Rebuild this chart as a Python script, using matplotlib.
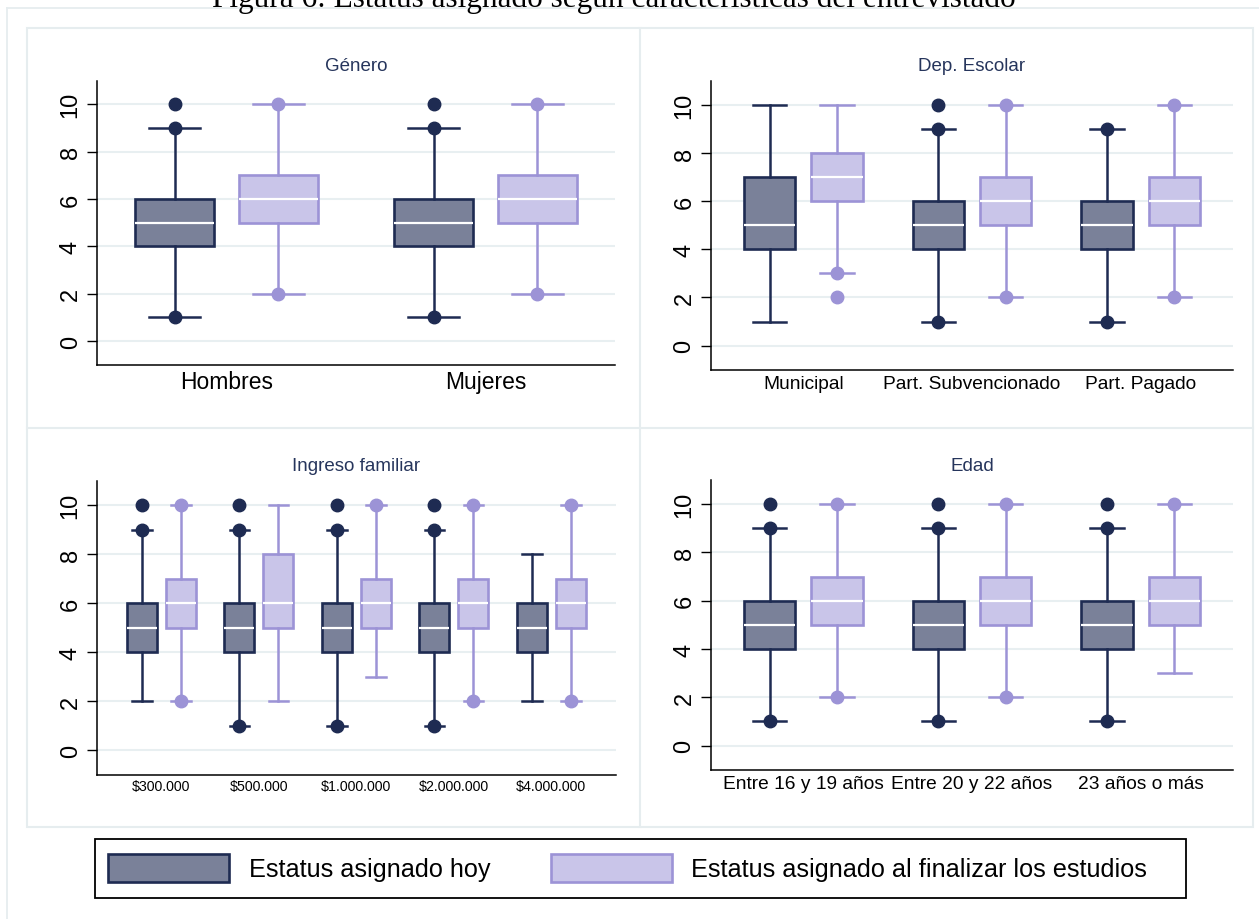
# Box plots of assigned status by respondent characteristics


# IMPORTS
import matplotlib
matplotlib.use('Agg')
import matplotlib.pyplot as plt
from matplotlib.patches import Patch, Rectangle
from matplotlib.lines import Line2D

plt.rcParams['font.family'] = ['Liberation Sans', 'DejaVu Sans']

# DATA (whislo, q1, med, q3, whishi, outliers)
genero_cats = ['Hombres', 'Mujeres']
genero_hoy = [(1, 4, 5, 6, 9, [10, 9, 1]), (1, 4, 5, 6, 9, [10, 9, 1])]
genero_fin = [(2, 5, 6, 7, 10, [10, 2]), (2, 5, 6, 7, 10, [10, 2])]

escolar_cats = ['Municipal', 'Part. Subvencionado', 'Part. Pagado']
escolar_hoy = [(1, 4, 5, 7, 10, []), (1, 4, 5, 6, 9, [10, 9, 1]),
               (1, 4, 5, 6, 9, [9, 1])]
escolar_fin = [(3, 6, 7, 8, 10, [3, 2]), (2, 5, 6, 7, 10, [10, 2]),
               (2, 5, 6, 7, 10, [10, 2])]

ingreso_cats = ['$300.000', '$500.000', '$1.000.000', '$2.000.000',
                '$4.000.000']
ingreso_hoy = [(2, 4, 5, 6, 9, [10, 9]), (1, 4, 5, 6, 9, [10, 9, 1]),
               (1, 4, 5, 6, 9, [10, 9, 1]), (1, 4, 5, 6, 9, [10, 9, 1]),
               (2, 4, 5, 6, 8, [])]
ingreso_fin = [(2, 5, 6, 7, 10, [10, 2]), (2, 5, 6, 8, 10, []),
               (3, 5, 6, 7, 10, [10]), (2, 5, 6, 7, 10, [10, 2]),
               (2, 5, 6, 7, 10, [10, 2])]

edad_cats = ['Entre 16 y 19 años', 'Entre 20 y 22 años', '23 años o más']
edad_hoy = [(1, 4, 5, 6, 9, [10, 9, 1]), (1, 4, 5, 6, 9, [10, 9, 1]),
            (1, 4, 5, 6, 9, [10, 9, 1])]
edad_fin = [(2, 5, 6, 7, 10, [10, 2]), (2, 5, 6, 7, 10, [10, 2]),
            (3, 5, 6, 7, 10, [10])]

serie_labels = ['Estatus asignado hoy',
                'Estatus asignado al finalizar los estudios']

# STYLE
DARK_FILL = '#7a8199'
DARK_EDGE = '#1e2b52'
LIGHT_FILL = '#c9c5e9'
LIGHT_EDGE = '#9c93d6'
TITLE_COL = '#26355c'
GRID_COL = '#e8eff1'
FRAME_COL = '#e6edef'
W, H = 1259, 920


# FUNCTIONS
def to_stats(boxes):
    out = []
    for lo, q1, med, q3, hi, fl in boxes:
        out.append({'whislo': lo, 'q1': q1, 'med': med, 'q3': q3,
                    'whishi': hi, 'fliers': fl})
    return out


def draw_boxes(ax, boxes, pos, width, fill, edge):
    ax.bxp(to_stats(boxes), positions=pos, widths=width,
           capwidths=width * 0.65, patch_artist=True, showfliers=True,
           boxprops=dict(facecolor=fill, edgecolor=edge, linewidth=1.9),
           whiskerprops=dict(color=edge, linewidth=1.8),
           capprops=dict(color=edge, linewidth=1.8),
           medianprops=dict(color='white', linewidth=1.6),
           flierprops=dict(marker='o', markerfacecolor=edge,
                           markeredgecolor=edge, markersize=9))


def panel(fig, rect, title, cats, hoy, fin, xlim, xsize, xpad):
    ax = fig.add_axes(rect)
    n = len(cats)
    centers = list(range(1, n + 1))
    width = 0.305
    off = 0.2
    draw_boxes(ax, hoy, [c - off for c in centers], width,
               DARK_FILL, DARK_EDGE)
    draw_boxes(ax, fin, [c + off for c in centers], width,
               LIGHT_FILL, LIGHT_EDGE)
    ax.set_xlim(*xlim)
    ax.set_ylim(-1, 11)
    ax.set_yticks(range(0, 11, 2))
    ax.set_yticklabels([str(v) for v in range(0, 11, 2)], rotation=90,
                       va='center', fontsize=17)
    ax.set_xticks(centers)
    ax.set_xticklabels(cats, fontsize=xsize)
    ax.tick_params(axis='x', length=0, pad=xpad)
    ax.tick_params(axis='y', length=7, width=1, pad=4)
    ax.grid(axis='y', color=GRID_COL, linewidth=1.5)
    ax.set_axisbelow(True)
    for s in ['top', 'right']:
        ax.spines[s].set_visible(False)
    for s in ['left', 'bottom']:
        ax.spines[s].set_linewidth(1.1)
    ax.set_title(title, fontsize=13.5, color=TITLE_COL, pad=7.5)
    return ax


def fx(px):
    return px / W


def fy(py):
    return 1 - py / H


if __name__ == "__main__":
    fig = plt.figure(figsize=(W / 100, H / 100), dpi=100)

    # Background frames like the Stata graph region
    fig.add_artist(Line2D([fx(7), fx(7)], [fy(9), 0], color=FRAME_COL,
                          lw=1.3, transform=fig.transFigure))
    fig.add_artist(Line2D([fx(7), 1], [fy(9), fy(9)], color=FRAME_COL,
                          lw=1.3, transform=fig.transFigure))
    fig.add_artist(Rectangle((fx(27), fy(828)), fx(1253) - fx(27),
                             fy(29) - fy(828), facecolor='none',
                             edgecolor=FRAME_COL, lw=1.5,
                             transform=fig.transFigure))
    fig.add_artist(Line2D([fx(640), fx(640)], [fy(29), fy(828)],
                          color=FRAME_COL, lw=1.5,
                          transform=fig.transFigure))
    fig.add_artist(Line2D([fx(27), fx(1253)], [fy(429), fy(429)],
                          color=FRAME_COL, lw=1.5,
                          transform=fig.transFigure))

    panel(fig, [fx(97), fy(365.7), fx(518), 284 / H], 'Género',
          genero_cats, genero_hoy, genero_fin, (0.5, 2.5), 16.5, 4)
    panel(fig, [fx(710.8), fy(370.7), fx(522.4), 289 / H], 'Dep. Escolar',
          escolar_cats, escolar_hoy, escolar_fin, (0.45, 3.55), 13.8, 4)
    panel(fig, [fx(97), fy(775.7), fx(518.7), 294 / H], 'Ingreso familiar',
          ingreso_cats, ingreso_hoy, ingreso_fin, (0.34, 5.66), 10.2, 3)
    panel(fig, [fx(710.8), fy(770.7), fx(522.4), 289.7 / H], 'Edad',
          edad_cats, edad_hoy, edad_fin, (0.45, 3.55), 13.8, 4)

    # Legend
    handles = [Patch(facecolor=DARK_FILL, edgecolor=DARK_EDGE, lw=1.9),
               Patch(facecolor=LIGHT_FILL, edgecolor=LIGHT_EDGE, lw=1.9)]
    fig.legend(handles, serie_labels, loc='center left',
               bbox_to_anchor=(fx(108), fy(869)), ncol=2, frameon=False,
               fontsize=18.2, handlelength=4.8, handleheight=1.28,
               handletextpad=0.76, columnspacing=2.4, borderpad=0,
               borderaxespad=0)
    fig.add_artist(Rectangle((fx(94.5), fy(899)), fx(1186) - fx(94.5),
                             fy(840) - fy(899), facecolor='none',
                             edgecolor='black', lw=1.3,
                             transform=fig.transFigure))

    # Figure caption, cut off at the top edge as in the source page
    fig.text(fx(614), fy(7),
             'Figura 6: Estatus asignado según características del entrevistado',
             family=['Liberation Serif', 'DejaVu Serif'], fontsize=22.5,
             ha='center', va='baseline')

    fig.savefig('out.png', dpi=100)
    plt.close(fig)
